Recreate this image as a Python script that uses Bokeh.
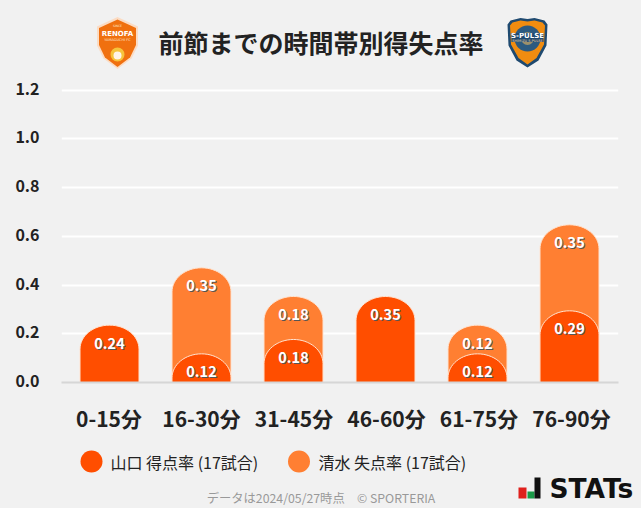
import numpy as np
from bokeh.embed import file_html
from bokeh.resources import INLINE
from bokeh.plotting import figure
from bokeh.layouts import column
from bokeh.models import ColumnDataSource, FixedTicker, LinearAxis, Range1d
from bokeh.core.properties import value

periods = ["0-15分", "16-30分", "31-45分", "46-60分", "61-75分", "76-90分"]
yamaguchi_scored = [0.2353, 0.1176, 0.1765, 0.3529, 0.1176, 0.2941]
shimizu_conceded = [0.0000, 0.3529, 0.1765, 0.0000, 0.1176, 0.3529]
y_ticks = [0.0, 0.2, 0.4, 0.6, 0.8, 1.0, 1.2]
title_text = "前節までの時間帯別得失点率"
legend_names = ["山口 得点率 (17試合)", "清水 失点率 (17試合)"]
footer_text = "データは2024/05/27時点　© SPORTERIA"

BG = "#f1f1f1"
DARK = "#ff4e00"
LIGHT = "#ff7f32"
FONT = value("Noto Sans CJK JP")
W = 641


def canvas(height, y_top, y_bottom):
    """A frameless figure whose data coordinates are page pixels."""
    f = figure(width=W, height=height, output_backend="svg", toolbar_location=None,
               x_range=Range1d(0, W), y_range=Range1d(y_bottom, y_top),
               min_border=0, min_border_left=0, min_border_right=0,
               min_border_top=0, min_border_bottom=0, frame_align=False,
               background_fill_color=BG, border_fill_color=BG, outline_line_color=None,
               styles={"background-color": BG})
    f.axis.visible = False
    f.grid.visible = False
    return f


# ---------- header ----------
h = canvas(70, 0, 70)
h.text(x=[320.5], y=[41], text=[title_text], text_font=FONT, text_font_size="25px",
       text_font_style="bold", text_color="#222222", text_align="center", text_baseline="middle")


def crest_poly(f, xs, ys, color):
    f.patch(xs, ys, fill_color=color, line_color=None)


# Renofa crest
crest_poly(h, [117, 137.5, 137.5, 131, 117, 103, 96.5, 96.5], [16.5, 26, 45, 58, 68.5, 58, 45, 26], "#fbdcc4")
crest_poly(h, [117, 135.5, 135.5, 129.5, 117, 104.5, 98.5, 98.5], [19, 27.5, 44.5, 57, 66.5, 57, 44.5, 27.5], "#f0700f")
h.scatter([117], [54], size=14, fill_color="#f6c33c", line_color=None)
h.scatter([117], [55], size=8, fill_color="#fff4e8", line_color=None)
h.text([117], [33.5], text=["RENOFA"], text_font=value("DejaVu Sans"), text_font_size="7px", text_font_style="bold",
       text_color="#ffffff", text_align="center", text_baseline="middle")
h.text([117], [39], text=["YAMAGUCHI FC"], text_font=value("DejaVu Sans"), text_font_size="3.5px",
       text_color="#ffe6d2", text_align="center", text_baseline="middle")
h.text([117], [25], text=["SINCE"], text_font=value("DejaVu Sans"), text_font_size="3px",
       text_color="#ffe6d2", text_align="center", text_baseline="middle")

# S-Pulse crest
crest_poly(h, [527, 534, 544, 547, 546, 538, 527, 516, 508, 507, 510, 520],
           [18.5, 17.5, 20, 24, 45, 60, 67, 60, 45, 24, 20, 17.5], "#1f4a70")
crest_poly(h, [527, 534, 542, 544.5, 543.5, 536, 527, 518, 510.5, 509.5, 512, 520],
           [21, 20, 22, 25, 44, 57.5, 64, 57.5, 44, 25, 22, 20], "#f08c10")
h.scatter([527], [38], size=26, fill_color="#2c5a80", line_color=None)
h.scatter([527], [38], size=13, fill_color="#e9b45c", line_color=None, alpha=0.6)
crest_poly(h, [511, 543, 543, 511], [32.5, 32.5, 41.5, 41.5], "#1f4a70")
h.text([527], [35], text=["S-PULSE"], text_font=value("DejaVu Sans"), text_font_size="7px", text_font_style="bold",
       text_color="#ffffff", text_align="center", text_baseline="middle")
h.text([527], [40], text=["SHIMIZU S-PULSE"], text_font=value("DejaVu Sans"), text_font_size="3.5px",
       text_color="#f4d9a8", text_align="center", text_baseline="middle")

# ---------- chart ----------
PX_PER_UNIT = 243.75
FRAME_H = 294
CAP_RY = 24 / PX_PER_UNIT
HALF_W = 29.5 / 92
n = len(periods)


def capped_bar(i, top):
    t = np.linspace(np.pi, 0, 33)
    xs = np.concatenate([[i - HALF_W], i + HALF_W * np.cos(t), [i + HALF_W]])
    ys = np.concatenate([[0], top - CAP_RY + CAP_RY * np.sin(t), [0]])
    return xs.tolist(), ys.tolist()


totals = [a + b for a, b in zip(yamaguchi_scored, shimizu_conceded)]

c = figure(width=W, height=370, output_backend="svg", toolbar_location=None,
           x_range=Range1d((61 - 109) / 92, (618 - 109) / 92),
           y_range=Range1d(0, FRAME_H / PX_PER_UNIT), frame_align=False,
           min_border_left=61, min_border_right=23, min_border_top=18, min_border_bottom=58,
           background_fill_color=BG, border_fill_color=BG, outline_line_color=None,
           styles={"background-color": BG})
# The tick labels sit slightly off the bars and gridlines, so their axes use ranges of their own.
c.extra_y_ranges = {"labels": Range1d(-1.5 / PX_PER_UNIT, (FRAME_H - 1.5) / PX_PER_UNIT)}
c.extra_x_ranges = {"labels": Range1d((61 - 108.5) / 92.5, (618 - 108.5) / 92.5)}

upper = [capped_bar(i, totals[i]) for i in range(n) if shimizu_conceded[i] > 0]
lower = [capped_bar(i, yamaguchi_scored[i]) for i in range(n)]
c.patches([u[0] for u in upper], [u[1] for u in upper], fill_color=LIGHT, line_color="#ffe3d0", line_width=1)
c.patches([u[0] for u in lower], [u[1] for u in lower], fill_color=DARK, line_color="#ffe3d0", line_width=1)

lab_x, lab_y, lab_t = [], [], []
for i in range(n):
    lab_x.append(i); lab_y.append(yamaguchi_scored[i]); lab_t.append(f"{yamaguchi_scored[i]:.2f}")
    if shimizu_conceded[i] > 0:
        lab_x.append(i); lab_y.append(totals[i]); lab_t.append(f"{shimizu_conceded[i]:.2f}")
src = ColumnDataSource(dict(x=lab_x, y=lab_y, t=lab_t))
c.text("x", "y", text="t", source=src, x_offset=1, y_offset=19, text_font=FONT, text_font_size="14.5px",
       text_font_style="bold", text_color="#555555", text_align="center", text_baseline="middle")
c.text("x", "y", text="t", source=src, x_offset=0, y_offset=18, text_font=FONT, text_font_size="14.5px",
       text_font_style="bold", text_color="#ffffff", text_align="center", text_baseline="middle")

c.ygrid.ticker = FixedTicker(ticks=y_ticks)
c.ygrid.grid_line_color = "#ffffff"
c.ygrid.grid_line_width = 2
c.xgrid.visible = False
c.yaxis.visible = False

yax = LinearAxis(y_range_name="labels", ticker=FixedTicker(ticks=y_ticks),
                 major_label_overrides={t: f"{t:.1f}" for t in y_ticks},
                 axis_line_color=None, major_tick_line_color=None, minor_tick_line_color=None,
                 major_label_standoff=16, major_label_text_font="Noto Sans CJK JP",
                 major_label_text_font_size="16px", major_label_text_font_style="bold",
                 major_label_text_color="#222222")
c.add_layout(yax, "left")

# Baseline on the chart's own x range; labels on the slightly wider one.
c.xaxis.ticker = FixedTicker(ticks=[])
c.xaxis.axis_line_color = "#d6d6d6"
c.xaxis.axis_line_width = 2
c.xaxis.major_tick_line_color = None
c.xaxis.minor_tick_line_color = None
c.xaxis.major_label_text_color = None

xax = LinearAxis(x_range_name="labels", ticker=FixedTicker(ticks=list(range(n))),
                 major_label_overrides={i: periods[i] for i in range(n)},
                 axis_line_color=None, major_tick_line_color=None, minor_tick_line_color=None,
                 major_label_standoff=14, major_label_text_font="Noto Sans CJK JP",
                 major_label_text_font_size="21px", major_label_text_font_style="bold",
                 major_label_text_color="#222222")
c.add_layout(xax, "below")

# ---------- legend and footer ----------
f = canvas(68, 440, 508)
f.scatter([91, 298.5], [461, 461], size=22, fill_color=[DARK, LIGHT], line_color=None)
f.text([110, 318], [461, 461], text=legend_names, text_font=FONT, text_font_size="16px",
       text_color="#222222", text_align="left", text_baseline="middle")
f.text([320.5], [497], text=[footer_text], text_font=FONT, text_font_size="12.3px",
       text_color="#999999", text_align="center", text_baseline="middle")
f.quad(left=[518, 527, 534], right=[526, 534, 540], top=[487, 491, 477], bottom=[498, 498, 498],
       fill_color=["#e0201c", "#1a9a48", "#111111"], line_color=None)
f.text([549], [488], text=["STATs"], text_font=value("DejaVu Sans"), text_font_size="26.5px",
       text_font_style="bold", text_color="#111111", text_align="left", text_baseline="middle")

layout = column(h, c, f, spacing=0, styles={"background-color": BG})
open("out.html", "w", encoding="utf-8").write(file_html(layout, INLINE))
